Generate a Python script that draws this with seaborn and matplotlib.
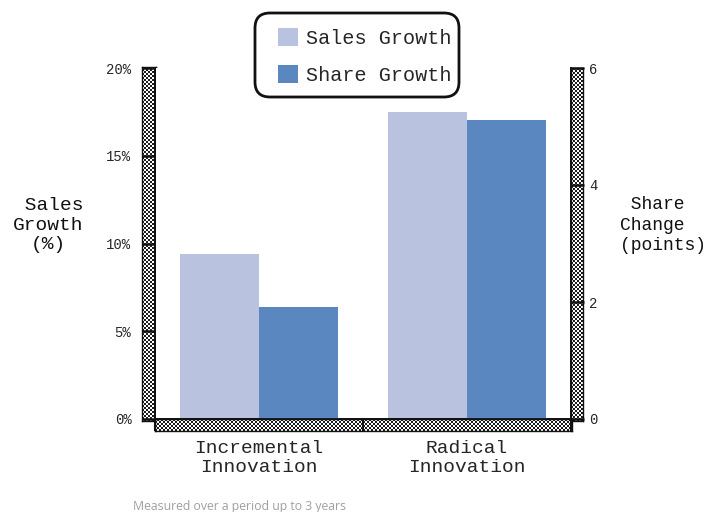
import numpy as np
import pandas as pd
import matplotlib
matplotlib.use("Agg")
import matplotlib.pyplot as plt
from matplotlib.colors import ListedColormap
from matplotlib.patches import Patch, FancyBboxPatch
from matplotlib.transforms import IdentityTransform
import seaborn as sns

# ---- data ----
categories = ["Incremental\nInnovation", "Radical\nInnovation"]
sales_growth = [9.4, 17.5]      # % (left axis)
share_change = [1.92, 5.11]     # points (right axis)
series = ["Sales Growth", "Share Growth"]
left_ticks = [0, 5, 10, 15, 20]
left_tick_labels = ["0%", "5%", "10%", "15%", "20%"]
right_ticks = [0, 2, 4, 6]
footnote = "Measured over a period up to 3 years"

colors = {"Sales Growth": "#b9c2de", "Share Growth": "#5b87c1"}
MONO = "Liberation Mono"

sns.set_theme(style="white")
plt.rcParams["font.family"] = [MONO, "DejaVu Sans"]

W, H = 709, 512
fig = plt.figure(figsize=(W / 100, H / 100), dpi=100)


def px_rect(x0, y0, w, h):
    return [x0 / W, 1 - (y0 + h) / H, w / W, h / H]


# main plotting area
ax = fig.add_axes(px_rect(155, 68, 416, 351))
ax2 = ax.twinx()

sales_df = pd.DataFrame({"category": categories, "value": sales_growth,
                         "series": series[0]})
share_df = pd.DataFrame({"category": categories, "value": share_change,
                         "series": series[1]})

common = dict(x="category", y="value", hue="series", hue_order=series,
              order=categories, palette=colors, width=0.76, gap=0,
              dodge=True, legend=False, saturation=1, linewidth=0)
sns.barplot(data=sales_df, ax=ax, **common)
sns.barplot(data=share_df, ax=ax2, **common)

for a in (ax, ax2):
    a.set_xlim(-0.5, 1.5)
    a.set_xlabel("")
    a.set_ylabel("")
    a.grid(False)

ax.set_ylim(0, 20)
ax2.set_ylim(0, 6)

# left axis ticks
ax.set_yticks(left_ticks)
ax.set_yticklabels(left_tick_labels)
ax.tick_params(axis="y", which="major", direction="out", length=9.5,
               width=1.8, color="#111111", pad=7.5, labelsize=10,
               left=True, labelleft=True)

# right axis ticks
ax2.set_yticks(right_ticks)
ax2.set_yticklabels([str(t) for t in right_ticks])
ax2.tick_params(axis="y", which="major", direction="out", length=9,
                width=1.8, color="#111111", pad=4, labelsize=10,
                right=True, labelright=True)

# category labels and boundary ticks on the x axis
ax.set_xticks([0, 1])
ax.set_xticklabels(categories, fontsize=14, linespacing=1.2)
ax.tick_params(axis="x", which="major", length=0, pad=15)
ax.set_xticks([-0.5, 0.5, 1.5], minor=True)
ax.tick_params(axis="x", which="minor", direction="out", length=8.5,
               width=1.5, color="#111111", bottom=True)
ax2.tick_params(axis="x", which="both", length=0, labelbottom=False)

for a in (ax, ax2):
    a.spines["top"].set_visible(False)
    for s in ("left", "right", "bottom"):
        a.spines[s].set_color("#111111")
        a.spines[s].set_linewidth(1.3)


# checkered thick axis bars
def checker(x0, y0, w, h):
    cax = fig.add_axes(px_rect(x0, y0, w, h))
    cax.set_zorder(-1)
    yy, xx = np.indices((h, w))
    grid = ((xx // 2) + (yy // 2)) % 2
    cax.imshow(grid, cmap=ListedColormap(["#ffffff", "#1c1c1c"]),
               interpolation="nearest", aspect="auto")
    cax.set_xticks([])
    cax.set_yticks([])
    for sp in cax.spines.values():
        sp.set_color("#111111")
        sp.set_linewidth(1.0)
    return cax


checker(142, 67, 14, 354)    # left bar
checker(571, 68, 12, 353)    # right bar
checker(155, 419, 417, 12)   # bottom bar

# axis titles
fig.text(48 / W, 1 - 225 / H, " Sales\nGrowth\n(%)", ha="center",
         va="center", multialignment="center", fontsize=14,
         linespacing=1.2, color="#111111")
fig.text(620 / W, 1 - 225 / H, " Share\nChange\n(points)", ha="left",
         va="center", multialignment="left", fontsize=13,
         linespacing=1.3, color="#111111")

# legend entries (frame drawn separately as a rounded box)
handles = [Patch(facecolor=colors[s], edgecolor="none") for s in series]
leg = fig.legend(handles, series, loc="upper left",
                 bbox_to_anchor=(278 / W, 1 - 28 / H), fontsize=14.5,
                 handlelength=1.0, handleheight=1.0, handletextpad=0.4,
                 labelspacing=0.85, borderpad=0, borderaxespad=0,
                 frameon=False)

legend_box = FancyBboxPatch((255, H - 97), 204, 84,
                            boxstyle="round,pad=0,rounding_size=15",
                            transform=IdentityTransform(),
                            facecolor="none", edgecolor="#111111",
                            linewidth=2.0)
fig.patches.append(legend_box)

# footnote
fig.text(133 / W, 1 - 510 / H, footnote, ha="left", va="baseline",
         fontsize=8.8, color="#a0a0a0", family=["Open Sans", "DejaVu Sans"])

fig.savefig("out.png", dpi=100)
